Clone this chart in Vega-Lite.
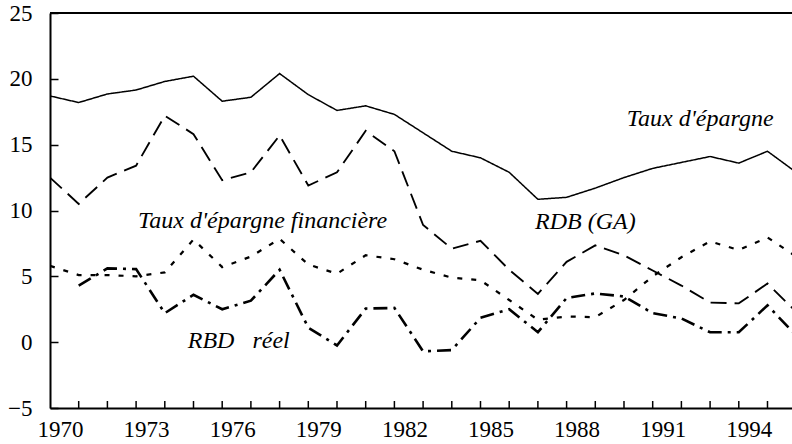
{
 "$schema": "https://vega.github.io/schema/vega-lite/v6.json",
 "width": 742,
 "height": 395,
 "autosize": {"type": "none"},
 "padding": {"left": 50, "top": 13, "right": 0, "bottom": 36},
 "background": "white",
 "config": {
  "view": {"stroke": null},
  "axis": {"grid": false, "title": null, "domainColor": "black", "domainWidth": 2, "tickColor": "black", "tickWidth": 1.5, "labelColor": "black", "labelFont": "Liberation Serif", "labelFontSize": 23, "labelOverlap": false, "labelFlush": false, "labelBound": false}
 },
 "datasets": {
  "series": [
   {"annee":1970,"serie":"Taux d'épargne","valeur":18.7},
   {"annee":1971,"serie":"Taux d'épargne","valeur":18.2},
   {"annee":1972,"serie":"Taux d'épargne","valeur":18.85},
   {"annee":1973,"serie":"Taux d'épargne","valeur":19.15},
   {"annee":1974,"serie":"Taux d'épargne","valeur":19.8},
   {"annee":1975,"serie":"Taux d'épargne","valeur":20.2},
   {"annee":1976,"serie":"Taux d'épargne","valeur":18.3},
   {"annee":1977,"serie":"Taux d'épargne","valeur":18.6},
   {"annee":1978,"serie":"Taux d'épargne","valeur":20.4},
   {"annee":1979,"serie":"Taux d'épargne","valeur":18.8},
   {"annee":1980,"serie":"Taux d'épargne","valeur":17.6},
   {"annee":1981,"serie":"Taux d'épargne","valeur":17.95},
   {"annee":1982,"serie":"Taux d'épargne","valeur":17.3},
   {"annee":1983,"serie":"Taux d'épargne","valeur":15.9},
   {"annee":1984,"serie":"Taux d'épargne","valeur":14.5},
   {"annee":1985,"serie":"Taux d'épargne","valeur":14.0},
   {"annee":1986,"serie":"Taux d'épargne","valeur":12.9},
   {"annee":1987,"serie":"Taux d'épargne","valeur":10.85},
   {"annee":1988,"serie":"Taux d'épargne","valeur":11.0},
   {"annee":1989,"serie":"Taux d'épargne","valeur":11.7},
   {"annee":1990,"serie":"Taux d'épargne","valeur":12.5},
   {"annee":1991,"serie":"Taux d'épargne","valeur":13.2},
   {"annee":1992,"serie":"Taux d'épargne","valeur":13.65},
   {"annee":1993,"serie":"Taux d'épargne","valeur":14.1},
   {"annee":1994,"serie":"Taux d'épargne","valeur":13.6},
   {"annee":1995,"serie":"Taux d'épargne","valeur":14.5},
   {"annee":1996,"serie":"Taux d'épargne","valeur":12.9},
   {"annee":1970,"serie":"RDB (GA)","valeur":12.5},
   {"annee":1971,"serie":"RDB (GA)","valeur":10.5},
   {"annee":1972,"serie":"RDB (GA)","valeur":12.5},
   {"annee":1973,"serie":"RDB (GA)","valeur":13.4},
   {"annee":1974,"serie":"RDB (GA)","valeur":17.2},
   {"annee":1975,"serie":"RDB (GA)","valeur":15.8},
   {"annee":1976,"serie":"RDB (GA)","valeur":12.3},
   {"annee":1977,"serie":"RDB (GA)","valeur":12.9},
   {"annee":1978,"serie":"RDB (GA)","valeur":15.7},
   {"annee":1979,"serie":"RDB (GA)","valeur":11.9},
   {"annee":1980,"serie":"RDB (GA)","valeur":12.9},
   {"annee":1981,"serie":"RDB (GA)","valeur":16.05},
   {"annee":1982,"serie":"RDB (GA)","valeur":14.5},
   {"annee":1983,"serie":"RDB (GA)","valeur":8.9},
   {"annee":1984,"serie":"RDB (GA)","valeur":7.1},
   {"annee":1985,"serie":"RDB (GA)","valeur":7.7},
   {"annee":1986,"serie":"RDB (GA)","valeur":5.5},
   {"annee":1987,"serie":"RDB (GA)","valeur":3.67},
   {"annee":1988,"serie":"RDB (GA)","valeur":6.1},
   {"annee":1989,"serie":"RDB (GA)","valeur":7.35},
   {"annee":1990,"serie":"RDB (GA)","valeur":6.6},
   {"annee":1991,"serie":"RDB (GA)","valeur":5.44},
   {"annee":1992,"serie":"RDB (GA)","valeur":4.3},
   {"annee":1993,"serie":"RDB (GA)","valeur":3.0},
   {"annee":1994,"serie":"RDB (GA)","valeur":2.95},
   {"annee":1995,"serie":"RDB (GA)","valeur":4.45},
   {"annee":1996,"serie":"RDB (GA)","valeur":2.3},
   {"annee":1970,"serie":"Taux d'épargne financière","valeur":5.8},
   {"annee":1971,"serie":"Taux d'épargne financière","valeur":5.1},
   {"annee":1972,"serie":"Taux d'épargne financière","valeur":5.1},
   {"annee":1973,"serie":"Taux d'épargne financière","valeur":5.0},
   {"annee":1974,"serie":"Taux d'épargne financière","valeur":5.3},
   {"annee":1975,"serie":"Taux d'épargne financière","valeur":7.8},
   {"annee":1976,"serie":"Taux d'épargne financière","valeur":5.7},
   {"annee":1977,"serie":"Taux d'épargne financière","valeur":6.5},
   {"annee":1978,"serie":"Taux d'épargne financière","valeur":7.85},
   {"annee":1979,"serie":"Taux d'épargne financière","valeur":5.9},
   {"annee":1980,"serie":"Taux d'épargne financière","valeur":5.2},
   {"annee":1981,"serie":"Taux d'épargne financière","valeur":6.6},
   {"annee":1982,"serie":"Taux d'épargne financière","valeur":6.3},
   {"annee":1983,"serie":"Taux d'épargne financière","valeur":5.5},
   {"annee":1984,"serie":"Taux d'épargne financière","valeur":4.9},
   {"annee":1985,"serie":"Taux d'épargne financière","valeur":4.7},
   {"annee":1986,"serie":"Taux d'épargne financière","valeur":3.2},
   {"annee":1987,"serie":"Taux d'épargne financière","valeur":1.7},
   {"annee":1988,"serie":"Taux d'épargne financière","valeur":1.95},
   {"annee":1989,"serie":"Taux d'épargne financière","valeur":1.9},
   {"annee":1990,"serie":"Taux d'épargne financière","valeur":3.2},
   {"annee":1991,"serie":"Taux d'épargne financière","valeur":5.0},
   {"annee":1992,"serie":"Taux d'épargne financière","valeur":6.45},
   {"annee":1993,"serie":"Taux d'épargne financière","valeur":7.65},
   {"annee":1994,"serie":"Taux d'épargne financière","valeur":7.0},
   {"annee":1995,"serie":"Taux d'épargne financière","valeur":7.95},
   {"annee":1996,"serie":"Taux d'épargne financière","valeur":6.5},
   {"annee":1971,"serie":"RBD réel","valeur":4.3},
   {"annee":1972,"serie":"RBD réel","valeur":5.6},
   {"annee":1973,"serie":"RBD réel","valeur":5.55},
   {"annee":1974,"serie":"RBD réel","valeur":2.2},
   {"annee":1975,"serie":"RBD réel","valeur":3.6},
   {"annee":1976,"serie":"RBD réel","valeur":2.5},
   {"annee":1977,"serie":"RBD réel","valeur":3.15},
   {"annee":1978,"serie":"RBD réel","valeur":5.5},
   {"annee":1979,"serie":"RBD réel","valeur":1.1},
   {"annee":1980,"serie":"RBD réel","valeur":-0.25},
   {"annee":1981,"serie":"RBD réel","valeur":2.55},
   {"annee":1982,"serie":"RBD réel","valeur":2.6},
   {"annee":1983,"serie":"RBD réel","valeur":-0.7},
   {"annee":1984,"serie":"RBD réel","valeur":-0.6},
   {"annee":1985,"serie":"RBD réel","valeur":1.85},
   {"annee":1986,"serie":"RBD réel","valeur":2.5},
   {"annee":1987,"serie":"RBD réel","valeur":0.76},
   {"annee":1988,"serie":"RBD réel","valeur":3.35},
   {"annee":1989,"serie":"RBD réel","valeur":3.7},
   {"annee":1990,"serie":"RBD réel","valeur":3.47},
   {"annee":1991,"serie":"RBD réel","valeur":2.2},
   {"annee":1992,"serie":"RBD réel","valeur":1.8},
   {"annee":1993,"serie":"RBD réel","valeur":0.75},
   {"annee":1994,"serie":"RBD réel","valeur":0.75},
   {"annee":1995,"serie":"RBD réel","valeur":2.8},
   {"annee":1996,"serie":"RBD réel","valeur":0.5}
  ],
  "graduations": [
   {"annee":1971},{"annee":1972},{"annee":1973},{"annee":1974},{"annee":1975},{"annee":1976},{"annee":1977},{"annee":1978},{"annee":1979},{"annee":1980},{"annee":1981},{"annee":1982},{"annee":1983},{"annee":1984},{"annee":1985},{"annee":1986},{"annee":1987},{"annee":1988},{"annee":1989},{"annee":1990},{"annee":1991},{"annee":1992},{"annee":1993},{"annee":1994},{"annee":1995}
  ],
  "notes": [
   {"annee":1990.1,"valeur":16.4,"texte":"Taux d'épargne"},
   {"annee":1973.07,"valeur":8.7,"texte":"Taux d'épargne financière"},
   {"annee":1986.9,"valeur":8.6,"texte":"RDB (GA)"},
   {"annee":1974.8,"valeur":-0.45,"texte":"RBD\u00a0\u00a0\u00a0réel"}
  ]
 },
 "layer": [
  {
   "data": {"name": "series"},
   "mark": {"type": "line", "clip": true, "color": "black"},
   "encoding": {
    "x": {"field": "annee", "type": "quantitative",
          "scale": {"domain": [1970, 1995.854], "nice": false, "zero": false},
          "axis": {"values": [1970,1973,1976,1979,1982,1985,1988,1991,1994],
                   "format": "d", "ticks": false, "labelPadding": 10, "labelOffset": 10}},
    "y": {"field": "valeur", "type": "quantitative",
          "scale": {"domain": [-5, 25], "nice": false, "zero": false},
          "axis": {"values": [-5,0,5,10,15,20,25], "tickSize": -8, "labelPadding": 26}},
    "detail": {"field": "serie"},
    "strokeDash": {"field": "serie", "type": "nominal",
                   "scale": {"domain": ["Taux d'épargne","RDB (GA)","Taux d'épargne financière","RBD réel"],
                             "range": [[1,0],[16,8],[5,9],[14,6,3,6]]}, "legend": null},
    "strokeWidth": {"field": "serie", "type": "nominal",
                    "scale": {"domain": ["Taux d'épargne","RDB (GA)","Taux d'épargne financière","RBD réel"],
                              "range": [1.5,2.6,2.6,2.4]}, "legend": null}
   }
  },
  {
   "data": {"name": "graduations"},
   "mark": {"type": "rule", "color": "black", "strokeWidth": 1.5},
   "encoding": {
    "x": {"field": "annee", "type": "quantitative"},
    "y": {"datum": -5},
    "y2": {"datum": -4.47}
   }
  },
  {
   "data": {"values": [{}]},
   "mark": {"type": "rule", "color": "black", "strokeWidth": 2},
   "encoding": {"y": {"datum": 25}}
  },
  {
   "data": {"name": "notes"},
   "mark": {"type": "text", "align": "left", "baseline": "alphabetic", "font": "Liberation Serif", "fontStyle": "italic", "fontSize": 24, "color": "black"},
   "encoding": {
    "x": {"field": "annee", "type": "quantitative"},
    "y": {"field": "valeur", "type": "quantitative"},
    "text": {"field": "texte"}
   }
  }
 ]
}
